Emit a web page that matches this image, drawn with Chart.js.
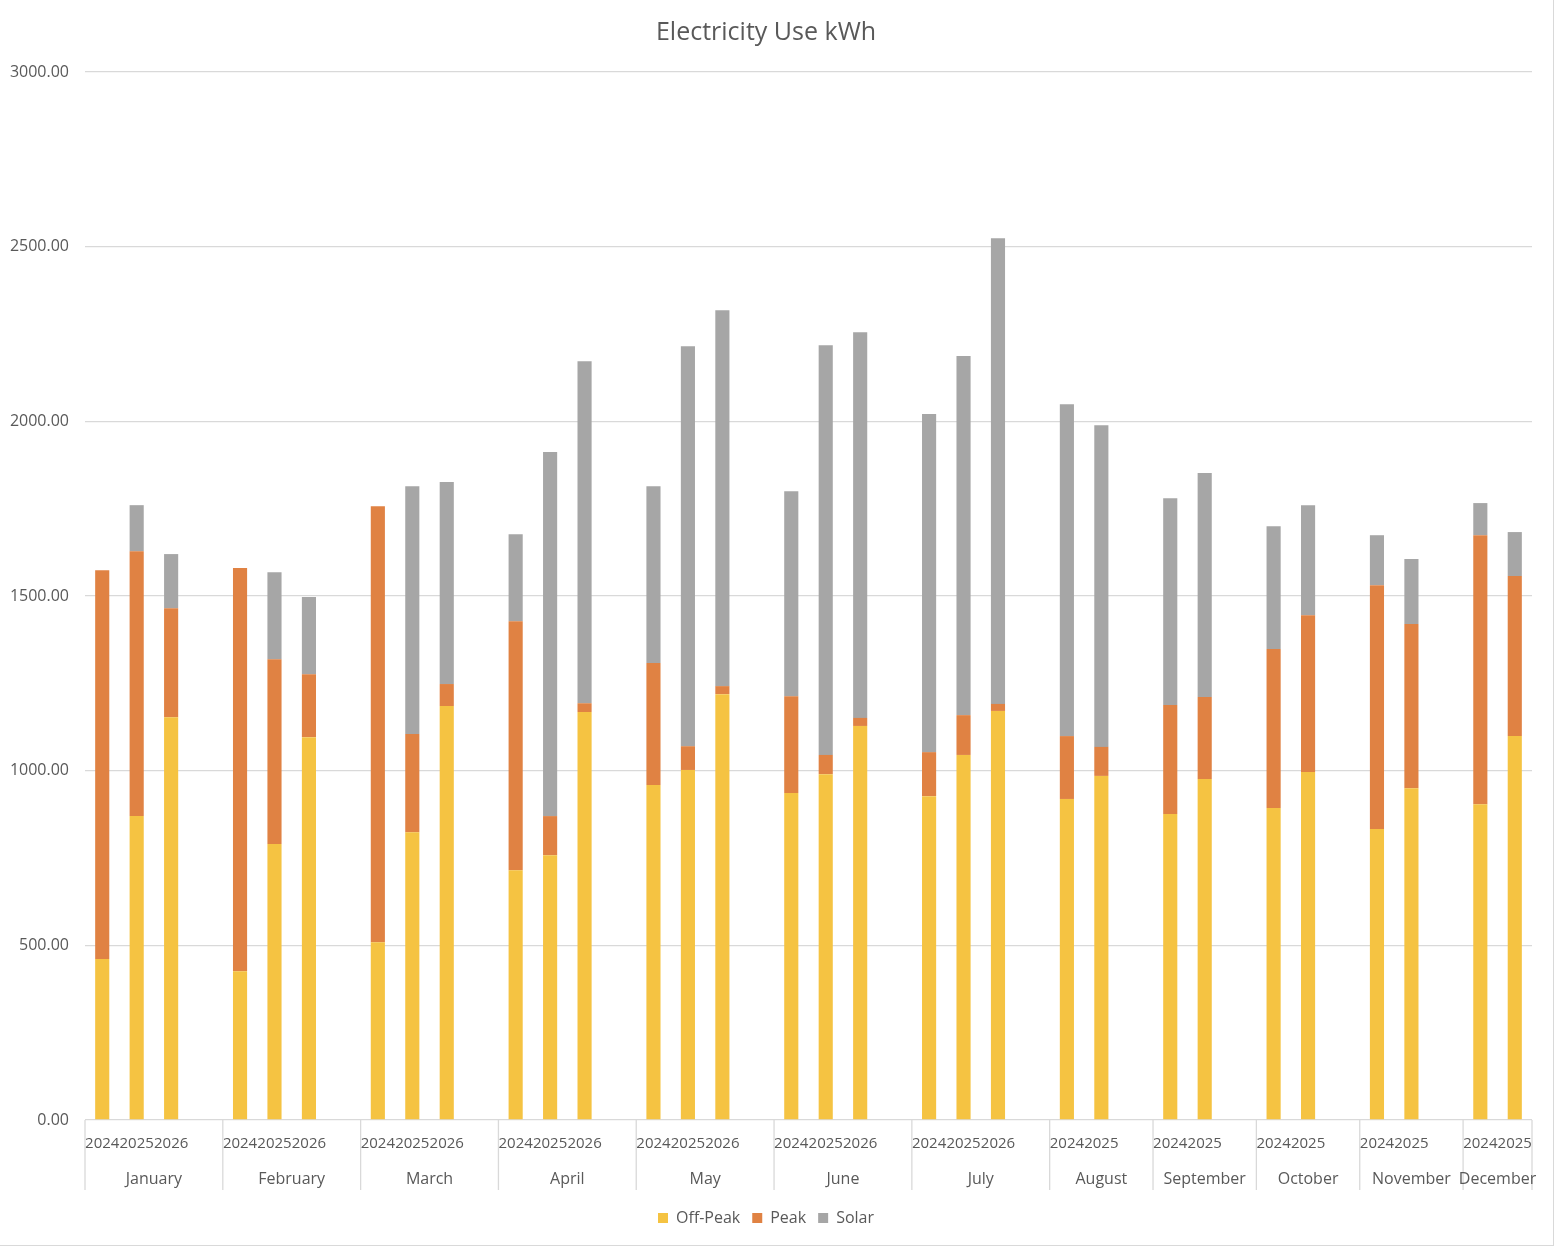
<!DOCTYPE html>
<html>
<head>
<meta charset="utf-8">
<title>Electricity Use kWh</title>
<script src="https://cdn.jsdelivr.net/npm/chart.js@4.4.1/dist/chart.umd.min.js"></script>
<style>
  html, body { margin: 0; padding: 0; background: #fff; }
  .frame {
    position: absolute;
    left: -1px;
    top: -1px;
    width: 1553px;
    height: 1245px;
    border: 1px solid #d9d9d9;
    background: #fff;
  }
</style>
</head>
<body>
<div class="frame"><canvas id="myChart"></canvas></div>
<script>
// month groups, a blank slot separates one month from the next
const months = ['January', 'February', 'March', 'April', 'May', 'June',
  'July', 'August', 'September', 'October', 'November', 'December'];

const yearLabels = [
  '2024', '2025', '2026', '',   // January
  '2024', '2025', '2026', '',   // February
  '2024', '2025', '2026', '',   // March
  '2024', '2025', '2026', '',   // April
  '2024', '2025', '2026', '',   // May
  '2024', '2025', '2026', '',   // June
  '2024', '2025', '2026', '',   // July
  '2024', '2025', '',           // August
  '2024', '2025', '',           // September
  '2024', '2025', '',           // October
  '2024', '2025', '',           // November
  '2024', '2025'                // December
];

const offPeak = [
  461, 870, 1153, null,
  426, 790, 1096, null,
  509, 824, 1185, null,
  715, 758, 1168, null,
  959, 1002, 1219, null,
  936, 990, 1128, null,
  927, 1045, 1171, null,
  919, 985, null,
  876, 976, null,
  893, 996, null,
  833, 950, null,
  904, 1099
];

const peak = [
  1113, 758, 312, null,
  1154, 529, 180, null,
  1248, 281, 63, null,
  713, 112, 25, null,
  349, 68, 23, null,
  277, 55, 23, null,
  126, 114, 20, null,
  180, 83, null,
  312, 235, null,
  455, 449, null,
  698, 470, null,
  770, 458
];

const solar = [
  0, 132, 155, null,
  0, 249, 221, null,
  0, 709, 578, null,
  249, 1042, 979, null,
  506, 1145, 1076, null,
  587, 1173, 1104, null,
  968, 1028, 1333, null,
  950, 921, null,
  592, 641, null,
  352, 315, null,
  143, 186, null,
  92, 126
];

const TEXT_COLOR = '#595959';
const LINE_COLOR = '#d9d9d9';
const FONT = "'Open Sans', 'Noto Sans', sans-serif";

// second row of the category axis: month names with separators
const monthAxis = {
  id: 'monthAxis',
  afterDraw(chart) {
    const x = chart.scales.x;
    const ctx = chart.ctx;
    const slot = x.getPixelForValue(1) - x.getPixelForValue(0);

    const groups = [];
    let start = 0;
    yearLabels.forEach((lab, i) => {
      if (lab === '') {
        groups.push([start, i]);
        start = i + 1;
      }
    });
    groups.push([start, yearLabels.length - 1]);

    ctx.save();
    ctx.strokeStyle = LINE_COLOR;
    ctx.lineWidth = 1.3;
    ctx.fillStyle = TEXT_COLOR;
    ctx.font = '16px ' + FONT;
    ctx.textAlign = 'center';
    ctx.textBaseline = 'middle';

    groups.forEach((g, m) => {
      const left = x.getPixelForValue(g[0]) - slot / 2;
      const right = x.getPixelForValue(g[1]) + slot / 2;
      ctx.beginPath();
      ctx.moveTo(left, x.top);
      ctx.lineTo(left, x.top + 70);
      ctx.stroke();
      if (m === groups.length - 1) {
        ctx.beginPath();
        ctx.moveTo(right, x.top);
        ctx.lineTo(right, x.top + 70);
        ctx.stroke();
      }
      ctx.fillText(months[m], (left + right) / 2, x.top + 59);
    });
    ctx.restore();
  }
};

const chart = new Chart(
  document.getElementById('myChart'),
  {
    type: 'bar',
    data: {
      labels: yearLabels,
      datasets: [
        {
          label: 'Off-Peak',
          data: offPeak,
          backgroundColor: '#F5C342',
          barPercentage: 0.41,
          categoryPercentage: 1,
        },
        {
          label: 'Peak',
          data: peak,
          backgroundColor: '#E08243',
          barPercentage: 0.41,
          categoryPercentage: 1,
        },
        {
          label: 'Solar',
          data: solar,
          backgroundColor: '#A6A6A6',
          barPercentage: 0.41,
          categoryPercentage: 1,
        },
      ],
    },
    options: {
      responsive: true,
      maintainAspectRatio: false,
      animation: false,
      layout: {
        padding: { left: 0, right: 21, top: 0, bottom: 9 }
      },
      plugins: {
        title: {
          display: true,
          text: 'Electricity Use kWh',
          color: TEXT_COLOR,
          font: { family: FONT, size: 25, weight: 'normal' },
          padding: { top: 18, bottom: 24 },
        },
        legend: {
          display: true,
          position: 'bottom',
          labels: {
            color: TEXT_COLOR,
            font: { family: FONT, size: 16 },
            boxWidth: 10,
            boxHeight: 10,
            padding: 12,
          },
        },
        tooltip: { enabled: false },
      },
      scales: {
        x: {
          stacked: true,
          offset: true,
          grid: { display: false, drawTicks: false },
          border: { display: false },
          ticks: {
            autoSkip: false,
            maxRotation: 0,
            minRotation: 0,
            padding: 15,
            color: TEXT_COLOR,
            font: { family: FONT, size: 15 },
          },
          afterFit: (scale) => { scale.height = 78; },
        },
        y: {
          stacked: true,
          min: 0,
          max: 3000,
          grid: { color: LINE_COLOR, lineWidth: 1.3, drawTicks: false },
          border: { display: false },
          ticks: {
            stepSize: 500,
            padding: 16,
            color: TEXT_COLOR,
            font: { family: FONT, size: 16 },
            callback: (value) => Number(value).toFixed(2),
          },
          afterFit: (scale) => { scale.width = 85; },
        },
      },
    },
    plugins: [monthAxis],
  }
);
</script>
</body>
</html>
